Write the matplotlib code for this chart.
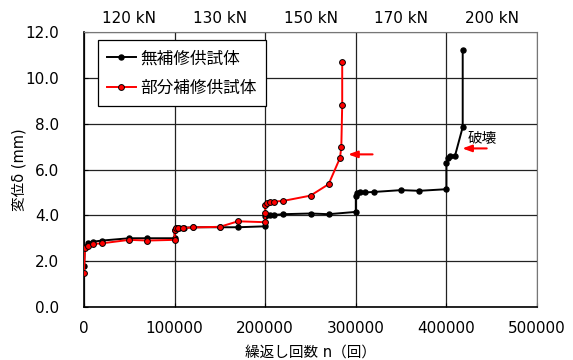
import matplotlib
matplotlib.use("Agg")
import matplotlib.pyplot as plt
from matplotlib.transforms import blended_transform_factory

plt.rcParams['font.family'] = ['DejaVu Sans', 'Noto Sans CJK JP']

# cycles vs. displacement, unrepaired specimen
n_plain = [0, 1000, 4000, 10000, 20000, 50000, 70000, 100000, 100000, 101000,
           105000, 110000, 120000, 150000, 170000, 200000, 200000, 202000, 205000,
           210000, 220000, 250000, 270000, 300000, 300000, 301500, 305000, 310000,
           320000, 350000, 370000, 400000, 400000, 401500, 404000, 409500, 418000,
           418000]
d_plain = [1.8, 2.6, 2.8, 2.85, 2.9, 3.0, 3.0, 3.0, 3.35, 3.45,
           3.45, 3.45, 3.48, 3.48, 3.48, 3.52, 3.98, 4.02, 4.0,
           4.02, 4.05, 4.08, 4.05, 4.15, 4.85, 4.97, 5.0, 5.0,
           5.02, 5.1, 5.07, 5.14, 6.3, 6.5, 6.6, 6.6, 7.85,
           11.2]

# partially repaired specimen
n_rep = [0, 1000, 4000, 10000, 20000, 50000, 70000, 100000, 100000, 101000,
         104000, 109000, 120000, 150000, 170000, 200000, 200000, 200000, 202000,
         205000, 210000, 220000, 250000, 270000, 282500, 284000, 285000, 285000]
d_rep = [1.47, 2.56, 2.66, 2.75, 2.78, 2.93, 2.9, 2.93, 3.36, 3.43,
         3.43, 3.45, 3.47, 3.5, 3.74, 3.7, 4.12, 4.43, 4.55,
         4.57, 4.6, 4.63, 4.86, 5.36, 6.5, 6.97, 8.82, 10.69]

load_labels = ['120 kN', '130 kN', '150 kN', '170 kN', '200 kN']
load_centers = [50000, 150000, 250000, 350000, 450000]

fig = plt.figure(figsize=(5.73, 3.6), dpi=100)
ax = fig.add_axes([84/573, 1-307/360, (537-84)/573, (307-32)/360])

ax.plot(n_plain, d_plain, color='black', lw=1.4, marker='o', ms=3.6,
        mfc='black', mec='black', label='無補修供試体', zorder=3)
ax.plot(n_rep, d_rep, color='red', lw=1.4, marker='o', ms=4.2,
        mfc='red', mec='black', mew=0.7, label='部分補修供試体', zorder=4)

ax.set_xlim(0, 500000)
ax.set_ylim(0, 12)
ax.set_xticks(range(0, 500001, 100000))
ax.set_yticks([0, 2, 4, 6, 8, 10, 12])
ax.set_yticklabels([f'{v:.1f}' for v in ax.get_yticks()])
ax.grid(True, color='#222222', lw=0.9)
ax.set_axisbelow(True)
ax.tick_params(direction='in', length=3, labelsize=11, colors='black')
ax.tick_params(axis='y', pad=18)
ax.tick_params(axis='x', pad=10)
for s in ('top', 'right'):
    ax.spines[s].set_color('#777777')
    ax.spines[s].set_linewidth(0.8)
for s in ('left', 'bottom'):
    ax.spines[s].set_color('black')
    ax.spines[s].set_linewidth(1.2)

ax.set_xlabel('繰返し回数 n（回）', fontsize=10.5, labelpad=6)
ax.set_ylabel('変位δ (mm)', fontsize=10.5, labelpad=-1)

# load level of each block
tr = blended_transform_factory(ax.transData, ax.transAxes)
for lbl, xc in zip(load_labels, load_centers):
    ax.text(xc, 1.05, lbl, transform=tr, ha='center', va='center', fontsize=11)

# failure markers
arrow = dict(arrowstyle='-|>,head_length=0.55,head_width=0.2', color='red',
             lw=1.5, shrinkA=0, shrinkB=0)
ax.annotate('', xy=(291500, 6.66), xytext=(318500, 6.66), arrowprops=arrow)
ax.annotate('', xy=(417500, 6.92), xytext=(444500, 6.92), arrowprops=arrow)
ax.text(423500, 7.38, '破壊', fontsize=10.5, va='center', ha='left')

leg = ax.legend(loc='upper left', bbox_to_anchor=(98/573, 1-40/360),
                bbox_transform=fig.transFigure, borderaxespad=0, fontsize=12,
                handlelength=1.7, handletextpad=0.3, labelspacing=0.7,
                borderpad=0.55, fancybox=False, framealpha=1, edgecolor='black')
leg.get_frame().set_linewidth(0.9)

fig.savefig('out.png', dpi=100)
